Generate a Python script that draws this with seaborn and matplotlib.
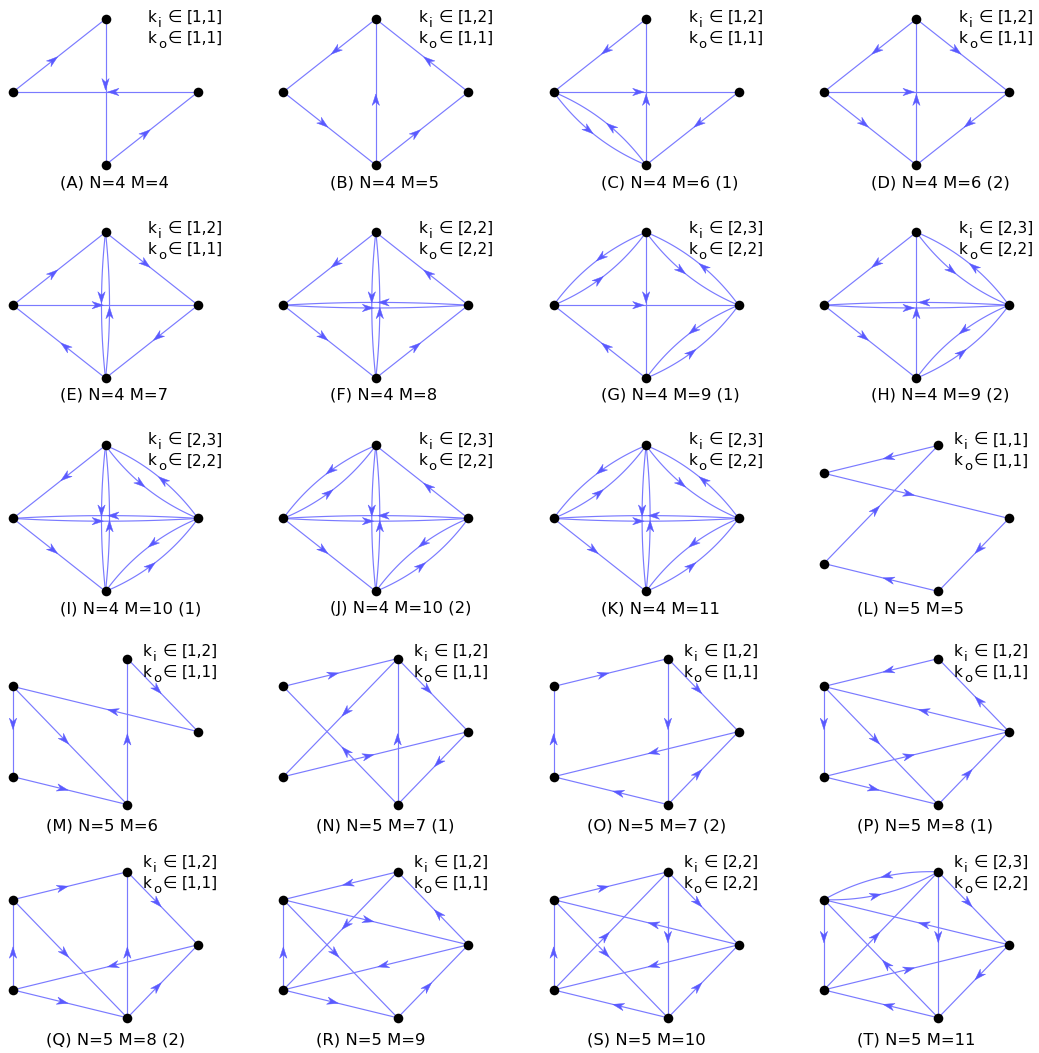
import numpy as np
import pandas as pd
import matplotlib
matplotlib.use("Agg")
import matplotlib.pyplot as plt
from matplotlib.patches import Polygon
import seaborn as sns

sns.set_theme(style="white")
plt.rcParams["font.family"] = ["DejaVu Sans"]

W, H = 1039, 1053

# ---- graph catalogue -------------------------------------------------------
tags = list("ABCDEFGHIJKLMNOPQRST")
n_nodes = [4, 4, 4, 4, 4, 4, 4, 4, 4, 4, 4, 5, 5, 5, 5, 5, 5, 5, 5, 5]
n_edges = [4, 5, 6, 6, 7, 8, 9, 9, 10, 10, 11, 5, 6, 7, 7, 8, 8, 9, 10, 11]
variant = ["", "", "(1)", "(2)", "", "", "(1)", "(2)", "(1)", "(2)", "",
           "", "", "(1)", "(2)", "(1)", "(2)", "", "", ""]
k_in = ["[1,1]", "[1,2]", "[1,2]", "[1,2]", "[1,2]", "[2,2]", "[2,3]", "[2,3]",
        "[2,3]", "[2,3]", "[2,3]", "[1,1]", "[1,2]", "[1,2]", "[1,2]", "[1,2]",
        "[1,2]", "[1,2]", "[2,2]", "[2,3]"]
k_out = ["[1,1]", "[1,1]", "[1,1]", "[1,1]", "[1,1]", "[2,2]", "[2,2]", "[2,2]",
         "[2,2]", "[2,2]", "[2,2]", "[1,1]", "[1,1]", "[1,1]", "[1,1]", "[1,1]",
         "[1,1]", "[1,1]", "[2,2]", "[2,2]"]

# directed edges (source, target); N=4 nodes L/T/R/B, N=5 nodes R/T/UL/LL/B
edges_A = [("L", "T"), ("T", "B"), ("B", "R"), ("R", "L")]
edges_B = [("T", "L"), ("L", "B"), ("B", "T"), ("B", "R"), ("R", "T")]
edges_C = [("T", "L"), ("L", "R"), ("B", "T"), ("R", "B"), ("L", "B"), ("B", "L")]
edges_D = [("T", "L"), ("T", "R"), ("L", "R"), ("B", "T"), ("L", "B"), ("R", "B")]
edges_E = [("L", "T"), ("T", "R"), ("L", "R"), ("T", "B"), ("B", "T"), ("R", "B"),
           ("B", "L")]
edges_F = [("T", "L"), ("R", "T"), ("L", "B"), ("B", "R"), ("L", "R"), ("R", "L"),
           ("T", "B"), ("B", "T")]
edges_G = [("T", "L"), ("L", "T"), ("T", "B"), ("L", "R"), ("B", "L"), ("T", "R"),
           ("R", "T"), ("R", "B"), ("B", "R")]
edges_H = [("T", "L"), ("T", "R"), ("R", "T"), ("L", "R"), ("R", "L"), ("B", "T"),
           ("L", "B"), ("R", "B"), ("B", "R")]
edges_I = [("T", "L"), ("T", "R"), ("R", "T"), ("L", "R"), ("R", "L"), ("T", "B"),
           ("B", "T"), ("L", "B"), ("R", "B"), ("B", "R")]
edges_J = [("T", "L"), ("L", "T"), ("R", "T"), ("L", "R"), ("R", "L"), ("T", "B"),
           ("B", "T"), ("L", "B"), ("R", "B"), ("B", "R")]
edges_K = [("T", "L"), ("L", "T"), ("T", "R"), ("R", "T"), ("L", "R"), ("R", "L"),
           ("T", "B"), ("B", "T"), ("L", "B"), ("R", "B"), ("B", "R")]
edges_L = [("T", "UL"), ("UL", "R"), ("R", "B"), ("B", "LL"), ("LL", "T")]
edges_M = [("UL", "LL"), ("LL", "B"), ("B", "T"), ("T", "R"), ("R", "UL"),
           ("UL", "B")]
edges_N = [("UL", "T"), ("T", "R"), ("T", "LL"), ("B", "T"), ("LL", "R"),
           ("R", "B"), ("B", "UL")]
edges_O = [("LL", "UL"), ("UL", "T"), ("T", "B"), ("T", "R"), ("R", "LL"),
           ("B", "LL"), ("B", "R")]
edges_P = [("T", "UL"), ("R", "T"), ("R", "UL"), ("UL", "LL"), ("UL", "B"),
           ("LL", "R"), ("LL", "B"), ("B", "R")]
edges_Q = [("UL", "T"), ("T", "R"), ("LL", "UL"), ("UL", "B"), ("B", "T"),
           ("R", "LL"), ("LL", "B"), ("B", "R")]
edges_R = [("T", "UL"), ("R", "T"), ("T", "LL"), ("UL", "R"), ("LL", "UL"),
           ("UL", "B"), ("R", "LL"), ("LL", "B"), ("B", "R")]
edges_S = [("UL", "T"), ("T", "R"), ("T", "B"), ("R", "UL"), ("LL", "UL"),
           ("LL", "T"), ("UL", "B"), ("R", "LL"), ("B", "LL"), ("B", "R")]
edges_T = [("T", "UL"), ("UL", "T"), ("T", "R"), ("T", "B"), ("R", "UL"),
           ("UL", "LL"), ("LL", "T"), ("B", "UL"), ("LL", "R"), ("R", "B"),
           ("B", "LL")]

edge_lists = [edges_A, edges_B, edges_C, edges_D, edges_E, edges_F, edges_G,
              edges_H, edges_I, edges_J, edges_K, edges_L, edges_M, edges_N,
              edges_O, edges_P, edges_Q, edges_R, edges_S, edges_T]

# ---- styling ----------------------------------------------------------------
LINE_C = "#7a7aff"
HEAD_C = "#5a5aff"
HEAD_LEN, HEAD_HW, HEAD_NOTCH = 11.5, 3.7, 3.5   # pixels


def circle_layout(n):
    names = ["R", "T", "L", "B"] if n == 4 else ["R", "T", "UL", "LL", "B"]
    ang = 2 * np.pi * np.arange(n) / n
    return pd.DataFrame({"node": names, "x": np.cos(ang), "y": np.sin(ang)})


def bend_for(u, v, n):
    pair = {u, v}
    if n == 4 and pair == {"L", "R"}:
        return 0.03
    if n == 4 and pair == {"T", "B"}:
        return 0.055
    return 0.14


def draw_edge(ax, p0, p2, rad):
    to_px = ax.transData.transform
    to_data = ax.transData.inverted().transform
    a, b = to_px(p0), to_px(p2)
    d = b - a
    ctrl = (a + b) / 2 + rad * np.array([d[1], -d[0]])
    t = np.linspace(0, 1, 60)[:, None]
    curve = (1 - t) ** 2 * a + 2 * (1 - t) * t * ctrl + t ** 2 * b
    cd = to_data(curve)
    ax.plot(cd[:, 0], cd[:, 1], color=LINE_C, lw=0.85, clip_on=False,
            solid_capstyle="butt", zorder=2)
    # arrowhead near the middle of the edge
    mid = 0.25 * a + 0.5 * ctrl + 0.25 * b
    u = d / np.hypot(*d)
    nrm = np.array([-u[1], u[0]])
    tip = mid - 2.0 * u
    pts = np.array([tip,
                    tip - HEAD_LEN * u + HEAD_HW * nrm,
                    tip - (HEAD_LEN - HEAD_NOTCH) * u,
                    tip - HEAD_LEN * u - HEAD_HW * nrm])
    ax.add_patch(Polygon(to_data(pts), closed=True, facecolor=HEAD_C,
                         edgecolor=HEAD_C, lw=0.3, clip_on=False, zorder=3))


fig = plt.figure(figsize=(W / 100, H / 100), dpi=100)
fig.patch.set_facecolor("white")

caption_y = [183, 395, 609, 826, 1040]

for i, tag in enumerate(tags):
    r, c = divmod(i, 4)
    n = n_nodes[i]
    x0 = 13 + 270.3 * c
    y_top = 19 + 213.2 * r
    ax = fig.add_axes([x0 / W, 1 - (y_top + 146) / H, 185 / W, 146 / H])
    pos = circle_layout(n)
    xlim = (pos.x.min(), pos.x.max())
    ylim = (pos.y.min(), pos.y.max())
    ax.set_xlim(*xlim)
    ax.set_ylim(*ylim)
    ax.set_autoscale_on(False)
    ax.axis("off")

    xy = pos.set_index("node")[["x", "y"]]
    edges = edge_lists[i]
    eset = set(edges)
    for (u, v) in edges:
        rad = bend_for(u, v, n) if (v, u) in eset else 0.0
        draw_edge(ax, xy.loc[u].values, xy.loc[v].values, rad)

    sns.scatterplot(data=pos, x="x", y="y", color="black", s=48, linewidth=0,
                    ax=ax, zorder=5, clip_on=False, legend=False)
    ax.set_xlim(*xlim)
    ax.set_ylim(*ylim)
    ax.set_xlabel("")
    ax.set_ylabel("")

    # degree ranges, upper right
    kx = x0 + (135 if n == 4 else 130)
    base = 22 + 211.2 * r
    for line, (sub, rng) in enumerate([("i", k_in[i]), ("o", k_out[i])]):
        by = base + 21 * line
        fig.text(kx / W, 1 - by / H, "k", fontsize=11, va="baseline",
                 ha="left", color="black")
        fig.text((kx + 10) / W, 1 - (by + 5) / H, sub, fontsize=9.5,
                 va="baseline", ha="left", color="black")
        fig.text((kx + 20) / W, 1 - by / H, "\u2208", fontsize=12,
                 va="baseline", ha="left", color="black")
        fig.text((kx + 39) / W, 1 - by / H, rng, fontsize=11,
                 va="baseline", ha="left", color="black")

    cap = f"({tag}) N={n} M={n_edges[i]}" + (f" {variant[i]}" if variant[i] else "")
    cx = x0 + (47 if n == 4 else 33)
    fig.text(cx / W, 1 - caption_y[r] / H, cap, fontsize=11.8, va="center",
             ha="left", color="black")

fig.savefig("out.png", dpi=100, facecolor="white")
